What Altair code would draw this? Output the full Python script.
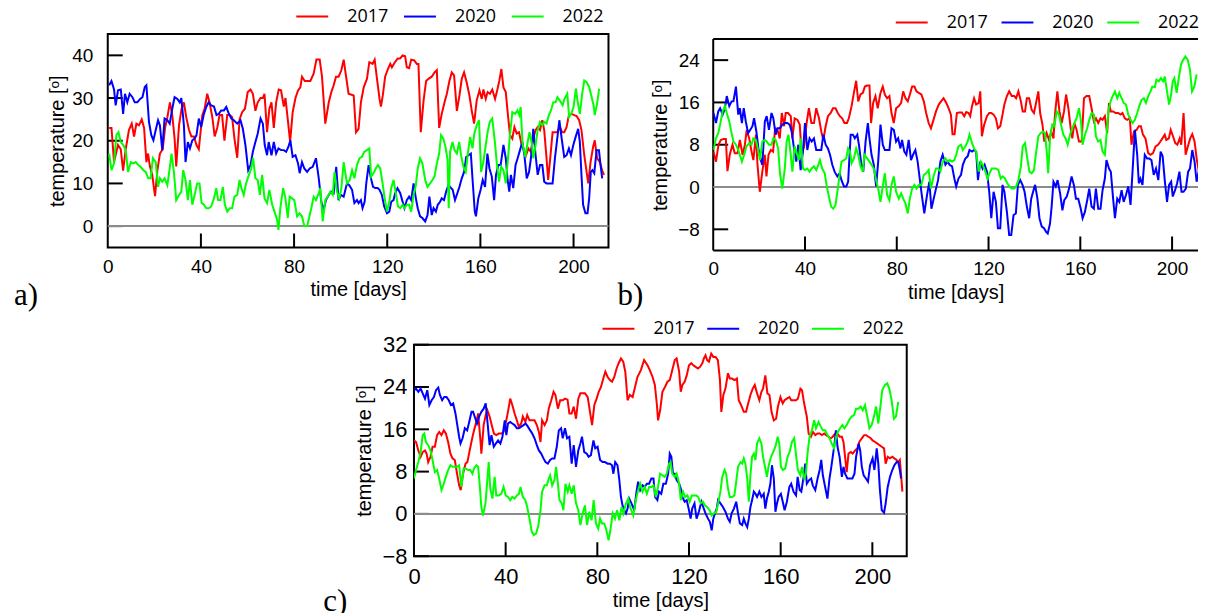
import altair as alt
import pandas as pd

YEARS = ["2017", "2020", "2022"]
COLORS = ["#ff0000", "#0000ff", "#00ff00"]
X_TICKS = [0, 40, 80, 120, 160, 200]

# ---------------- panel a) (day, temperature) ----------------
a17 = [(0.6,23),(1.6,23),(2.7,15),(4.4,19),(5.6,18),(6.6,13),(7.7,18),(9.1,22.5),(10.3,24),(11.3,21),(12.3,24),(13.4,23.6),(14.6,25),(15.6,23),(16.6,15),(17.3,17),(18.1,14),(19.1,12),(20.3,7),(21.3,13),(22.4,17),(23.6,18),(24.6,23),(25.6,25.5),(26.7,29),(27.7,26),(28.7,20.5),(29.4,14),(30.6,23.6),(31.7,27.5),(32.7,29),(33.7,25.5),(34.9,22.5),(35.9,21),(37,21),(38.1,19),(39.1,18),(40.6,26),(41.6,27.5),(42.7,31),(43.7,29),(44.9,25.5),(45.9,21),(47,23),(48,26),(49.1,26),(50.1,20),(51.3,26),(52.4,26),(53.4,25.5),(54.4,20.5),(55.6,16),(56.6,25),(57.7,26.7),(58.9,27.5),(60.1,31.4),(61.3,32),(62.3,31),(63.4,27),(64.4,29),(65.6,30),(66.6,30),(67.3,31),(68.4,22),(69.4,27.5),(70.3,29),(71.3,23),(72.3,29),(73.4,32),(74.4,31.8),(75.6,28),(76.3,30),(77.3,25),(78.3,19.7),(79.4,26.7),(80.6,30),(81.7,31.8),(82.7,32.5),(83.4,35),(84.6,34),(85.6,34),(87,34),(88.4,35.7),(89.6,39),(91,39),(92,35),(93.4,24),(94.9,29),(96,31.4),(97,33),(98,35),(99.1,35),(100.3,36.5),(101.3,39),(103.4,31),(105.6,30.6),(106.6,22),(107.7,22.8),(108.7,29),(109.9,32.5),(111.3,34.5),(112.3,38.4),(113.7,38),(114.6,39),(115.6,34.5),(116.7,29.8),(117.3,28),(118.1,30.6),(119.1,35),(120.3,36.8),(121.3,38),(122,37.2),(123.1,38.2),(124.4,39.2),(125.6,39.3),(126.6,40),(127.7,39.8),(128.4,37.2),(129.4,37),(130.3,39),(131.6,38.8),(132.7,38),(133.4,38),(134.4,22),(135.6,29.4),(136.7,34),(137.7,34.5),(139.1,35),(140.3,36),(141.3,36.5),(142.3,23),(143.4,26.3),(144.6,29),(145.6,31),(146.7,34),(147.7,36),(148.7,35.3),(149.9,27),(151,30.6),(152,34.5),(153,36),(154.1,33.7),(155.3,30.6),(156.3,27),(157.3,24),(158.4,29.4),(159.6,31.8),(160.6,29.8),(161.3,32),(162.3,29.8),(163.1,31.4),(164.1,31),(165.1,32),(166.3,29.8),(167.3,32),(168.1,34),(169,36.8),(169.9,32.5),(170.9,31.4),(171.7,26.7),(172.7,21.3),(173.7,20.5),(174.6,23.2),(175.6,21.7),(176.6,22),(177.7,19),(178.7,17.8),(179.6,16.6),(180.6,18.2),(181.6,17.4),(182.7,20.5),(183.7,22.5),(184.6,23.2),(185.6,22.5),(186.6,24.8),(187.4,22.5),(188.4,15.9),(189.1,10.8),(190.1,16.6),(191,22),(192,22),(193,22),(194.1,23.2),(195.1,22),(196,22),(197,23.2),(198,26),(199.1,26.3),(200.3,26),(201.3,25.8),(202.4,24.8),(203.4,22.5),(204.6,16.6),(205.6,12.7),(206.3,10),(207.3,15),(208.4,18.6),(209.1,20.1),(210.1,15.9),(211.3,15),(212.3,13),(213.1,12)]
a20 = [(0.6,33),(1.6,34),(2.7,32),(3.4,28.3),(4.4,31.8),(5.6,32),(6.6,26.3),(7.4,31),(8.4,29),(9.4,31),(10.6,30.2),(11.6,29),(12.7,29),(13.9,29.8),(14.9,30.2),(15.9,32.6),(16.6,33),(17.7,24.4),(18.7,21.3),(19.6,20.1),(20.6,22.5),(21.6,24.8),(22.4,23.6),(23.4,17.8),(24.4,25.2),(25.6,24.8),(26.6,24),(27.7,27.5),(28.7,30.2),(29.9,29.8),(30.9,29),(31.6,30),(32.7,23.6),(33.4,15),(34.4,19.7),(35.3,18.2),(36.3,20.1),(37.3,20.5),(38.1,21.3),(39.1,25.2),(40.1,23.2),(41.3,26.3),(42.3,27.9),(43.3,29),(44.4,28.3),(45.6,28),(46.7,26),(47.7,26.3),(48.7,27.1),(49.9,27.1),(50.9,27.9),(52,26.3),(53.1,25.2),(54.1,24.8),(55.6,24),(57,24.8),(58,22.8),(59.1,19),(60.3,13.1),(61.3,14.3),(62.3,17.4),(63.4,19.7),(64.4,21.7),(65.6,25.2),(66.6,24),(67.4,19),(68.4,16.6),(69.1,19.7),(70.3,16.6),(71.3,19.7),(72.3,17),(73.3,18.2),(74.4,17.8),(75.6,17.8),(76.6,17.4),(77.6,18.6),(78.4,20.1),(79.4,16.2),(80.6,16.6),(81.7,14.7),(82.4,12.4),(83.4,15),(84.4,13.5),(85.6,12.7),(86.7,13.5),(88,13.9),(89.4,15.9),(90.6,11.2),(91.7,5.7),(92.7,3.8),(93.7,6.1),(94.9,7.3),(95.9,8.1),(97,7.7),(98.1,13.9),(99.1,6.1),(100.1,7.3),(101.3,6.9),(102.7,10),(103.7,9.6),(104.9,8.5),(105.9,5.4),(107,6.1),(107.7,5.4),(108.7,6.1),(109.4,4.2),(110.3,5.7),(111,10),(112,14.3),(113,11.2),(113.9,9.2),(114.9,8.9),(115.9,8.9),(116.7,8.5),(117.7,7.3),(118.7,4.6),(119.9,3),(120.9,3.4),(121.7,5.7),(122.7,6.1),(123.4,7.7),(124.4,8.9),(125.6,7.7),(126.6,5.7),(127.4,4.2),(128.4,6.1),(129.4,6.9),(130.3,6.1),(131.3,10),(132.3,6.5),(133.1,4.2),(134.1,2.3),(135.1,1.9),(136.3,1.1),(137.3,2.6),(138.1,6.9),(139.1,2.6),(139.9,4.2),(140.9,3.4),(141.7,5),(142.7,5.7),(143.4,6.5),(144.4,6.1),(145.3,8.1),(146.3,9.6),(147,9.2),(148.1,8.5),(149.1,6.1),(150.1,7.7),(151,9.2),(152,11.2),(153,12.7),(153.9,16.2),(154.9,16.6),(155.9,17),(156.7,10.4),(157.6,3.4),(158.1,2.3),(159.1,6.5),(160.1,8.5),(161,10.8),(162,9.2),(163,17),(163.9,13.5),(164.9,11.6),(165.9,6.1),(166.7,12),(167.7,14.3),(168.7,14.3),(169.9,19),(170.9,15.9),(171.7,10.8),(172.4,8.1),(173.1,12),(174.1,8.9),(175.1,14.3),(176,15.9),(177,17.8),(178,19.7),(178.9,16.6),(179.9,11.2),(180.9,12.7),(181.7,15.9),(182.7,22.8),(183.7,16.6),(184.6,12),(185.6,14.3),(186.6,14.3),(187.4,10.4),(188.4,10),(189.9,10),(191,10),(192,15.9),(193,20.5),(193.9,24.8),(194.9,20.5),(196,16.2),(197,16.6),(198,18.2),(198.9,16.6),(199.9,19),(200.9,20.9),(202,22.8),(202.7,19.7),(203.4,12),(204.1,5),(205.1,3),(206,3),(206.7,6.5),(207.4,12.7),(208.1,13.1),(208.9,12.4),(209.9,17.8),(210.9,17.8),(211.6,14.3),(212.3,11.2)]
a22 = [(0.6,17),(1.6,13.1),(2.7,14.7),(3.7,21.3),(4.6,22),(5.6,19.7),(6.7,19),(7.7,17.8),(8.7,12.7),(9.9,15),(11,14.7),(12,15),(13.1,14.3),(14.1,13.9),(15.3,13.1),(16.3,12.7),(17.4,11.2),(18.4,11.2),(19.4,15.9),(20.6,15),(21.6,9.2),(22.4,11.2),(23.4,10.4),(24.4,11.2),(25.6,9.6),(26.6,13.5),(27.4,17),(28.4,12.7),(29.4,6.1),(30.6,7.3),(31.6,8.1),(32.4,13.1),(33.4,10.8),(34.4,6.1),(35.3,10.8),(36.3,5),(37.3,7.3),(38.4,10),(39.4,10),(40.3,5.4),(41.3,5),(42.3,4.2),(43.4,4.2),(44.4,4.6),(45.6,6.5),(46.6,8.9),(47.4,6.1),(48.4,6.1),(49.4,9.2),(50.3,5),(51.3,3.4),(52.4,4.2),(53.4,4.2),(54.4,6.9),(55.6,7.3),(56.6,10.8),(57.4,8.9),(58.4,7.3),(59.4,10),(60.6,12),(61.6,13.5),(62.4,16),(63.4,11.2),(64.4,10.8),(65.3,7.3),(66.3,12),(67.3,6.5),(68.4,5.4),(69.4,8.5),(70.6,5),(71.6,3.4),(72.7,1.5),(73.3,-0.9),(74.1,4.2),(75.3,8.9),(76.3,6.5),(77.3,1.9),(78.1,6.9),(79.1,6.5),(80.1,6.1),(81.3,2.3),(82.3,3),(83.4,2.3),(84.4,0),(85.6,0),(86.6,2.3),(87.4,4.2),(88.4,6.9),(89.4,6.1),(90.3,7.3),(91.3,8.9),(92.3,1.1),(93.4,6.1),(94.4,6.9),(95.6,8.1),(96.6,7.3),(97.4,12.7),(98.4,8.1),(99.4,6.5),(100.3,8.9),(101.3,15),(102.7,10),(103.9,10.8),(104.9,13.1),(105.9,11.2),(107,14.3),(108.1,15.9),(109.1,16.2),(110.1,17.4),(111.3,17.8),(112.3,18.2),(113.1,11.6),(114.1,12.4),(115.1,13.5),(116,14.3),(117,13.5),(118,10),(118.9,6.5),(119.9,3.4),(120.9,5.7),(121.7,8.9),(122.7,10.8),(123.7,7.7),(124.6,4.6),(125.6,4.2),(126.6,5),(127.4,4.2),(128.4,5),(129.4,5),(130.3,3.4),(131.3,7.3),(132.3,9.6),(133.1,13.5),(134.1,15.9),(135.1,14.7),(136.3,10.8),(137.3,9.2),(138.4,10),(139.4,10.8),(140.3,11.6),(141.3,14.7),(142.3,17),(143.1,21.3),(144.1,20.5),(145,18.6),(145.9,15.5),(146.4,4.2),(147,17.4),(148,19.7),(148.9,17.8),(149.9,17),(150.9,19.7),(151.7,16.6),(152.7,13.9),(153.7,12.7),(154.6,17),(155.6,20.9),(156.6,18.2),(157.4,21.7),(158.4,23.6),(159.4,24.8),(160.3,12.7),(161.3,15),(162.3,19),(163.1,22),(164,24.4),(165.1,25.2),(166.3,19.3),(167,15),(168,10.4),(168.9,13.9),(169.9,13.1),(170.9,10),(171.7,15),(172.7,21.3),(173.7,26.7),(174.9,26.3),(175.9,27.1),(176.7,26),(177.3,27.9),(178.1,19.3),(179.3,16.2),(180.3,19.7),(181.1,22),(182.1,19.3),(182.7,15.9),(183.7,19),(184.6,22.5),(185.6,24.4),(186.6,23.6),(187.4,24.4),(188.4,24),(189.4,26),(190.3,27.1),(191.3,29),(192.3,29),(193.1,30.2),(194.1,29.4),(195.3,28.3),(196.1,29.8),(197.3,31),(198.1,25.6),(199,26.3),(200,27.9),(201,32.2),(201.7,29.4),(202.7,26.3),(203.7,31),(204.6,34.1),(205.6,33.7),(206.7,32.6),(207.6,30.6),(208.6,28.3),(209.1,26),(210.1,28.7),(211,32.2)]

# ---------------- panel b) ----------------
b17 = [(0.1,6.7),(1.2,4.8),(2.3,8),(3.3,8.9),(4.5,9.1),(5.5,9.1),(6.2,3),(7.2,6.1),(8.4,8),(9.4,6.4),(10.6,6.4),(11.6,8.9),(12.8,6.1),(13.8,8),(14.6,10.8),(15.7,9.2),(16.7,6.7),(17.5,5.1),(18.6,9.9),(19.3,4.2),(20.3,-0.9),(21.4,2.9),(22.5,6.1),(23.2,2),(24.1,6.1),(25.1,7),(26.1,6.7),(27,11.1),(28,10.8),(29,9.2),(29.9,14),(30.9,11.5),(31.6,14),(32.6,14),(33.8,13.4),(34.5,9.2),(35.5,13),(36.7,12.7),(37.7,11.8),(38.6,6.1),(39.6,7.7),(40.7,12.1),(41.7,14.9),(42.8,12.1),(43.9,12.1),(44.9,14.9),(46.1,13),(47.1,10.5),(48,8.9),(49,11.5),(50,13.4),(51.2,14),(52.2,14.9),(53.3,14.9),(54.3,14),(55.2,13.4),(56.2,13),(57.2,12.1),(58.3,12.1),(59.1,13),(60.3,15.3),(61.3,17.8),(62.3,20.1),(63.2,16.2),(64.2,17.5),(65.2,17.8),(66.1,19),(67.1,19.2),(68.1,19.2),(68.8,12.1),(69.7,15.9),(70.7,17.2),(71.7,14.9),(72.9,17.8),(73.9,19),(74.8,17.5),(75.8,16.8),(76.8,17.2),(77.7,14),(78.7,12.1),(79.7,14.9),(80.9,15.3),(81.9,15.9),(82.8,18.1),(83.8,16.8),(84.8,16.2),(85.7,17.5),(86.7,19),(87.7,19),(88.6,18.1),(89.6,17.8),(90.7,17.5),(91.8,16.2),(92.8,14),(93.9,12.1),(94.9,11.1),(96,12.7),(97.1,14.3),(98.3,15.6),(99.3,16.2),(100.4,16.8),(101.6,15.9),(102.6,14.9),(103.6,13.7),(104.3,10),(105.2,10),(106.2,14),(107.2,14.1),(108.4,14.1),(109.4,13.4),(110.3,14.2),(111.3,14),(112,13.4),(112.8,15.3),(113.7,16.8),(114.6,15.6),(115.7,15.9),(116.4,18.1),(117.1,9.6),(118.1,11.8),(119.3,13.4),(120.3,14),(121.2,14),(122.2,13.7),(123.2,13),(124.1,11.1),(125.1,11.5),(126.1,13.7),(126.9,15.6),(128,17.2),(129,18.1),(130.1,17.2),(131.2,17.2),(132,16.8),(133,18.1),(134.1,16.2),(134.9,14.3),(135.9,14.3),(136.7,16.8),(137.7,16.8),(138.8,14.6),(139.8,14),(140.7,15.9),(141.7,18.1),(142.5,14),(143.5,11.8),(144.3,8.6),(145.3,10.2),(146.4,8.9),(147.3,10.5),(148.3,9.2),(149,14),(150,18.1),(150.9,14.3),(151.9,12.1),(152.9,14.3),(153.8,17.5),(154.8,14.9),(155.8,11.1),(156.5,9.2),(157.4,12.1),(158.4,10.8),(159.4,8.6),(160.6,8.6),(161.6,16.8),(162.7,17.2),(163.9,17.2),(164.9,14.9),(165.9,12.4),(166.8,13),(167.8,12.1),(168.8,13),(169.7,12.7),(170.7,13.4),(171.7,10.2),(172.5,15.9),(173.3,14.3),(174.3,14.3),(175.4,14),(176.5,14),(177.5,13.7),(178.4,14),(179.4,13),(180.4,12.7),(181.6,13),(182.3,8),(183.4,10.5),(184.5,10.8),(185.5,11.5),(186.4,11.5),(187.3,9.9),(188.4,9.2),(189.6,6.4),(190.6,6.1),(191.7,6.4),(192.8,7.7),(193.9,8),(194.9,8.6),(195.8,9.2),(196.8,9.9),(197.5,8.9),(198.6,9.2),(199.4,10.8),(200.4,9.6),(201.4,8.3),(202.3,8),(203.3,9.2),(204,8),(205,14),(205.9,6.1),(206.9,7.7),(207.9,9.2),(208.8,10),(209.8,8.6),(210.8,5.1),(211.7,2.9),(213,-2.2)]
b20 = [(0.1,14),(1.2,12.1),(2.2,14.3),(3,14.9),(4.1,13.7),(5.1,14.9),(5.9,17.2),(7,15.3),(8,16.2),(8.8,16.2),(9.9,19),(10.9,13.7),(11.6,14.9),(12.5,12.1),(13.3,14.9),(14.2,12.4),(15.2,10.2),(16.1,10.8),(17.1,11.5),(17.8,13),(18.8,10.5),(19.7,7.3),(20.7,5.1),(21.4,4.2),(22.5,12.4),(23.3,13.4),(24.3,10.8),(25.4,14),(26.2,13),(27.2,9.9),(28,11.1),(29,11.1),(30.1,11.8),(31.2,12.1),(32.3,12.1),(33.3,11.8),(34.2,10.5),(35.2,7.3),(36.2,4.8),(37.1,8),(38.1,3.2),(39.1,6.7),(40,12.1),(41,7),(42,9.2),(42.9,8.6),(43.9,9.2),(44.9,7),(46.1,7),(47.1,7),(48,9.9),(49,8),(50,7.3),(50.9,6.1),(51.9,4.2),(52.9,2.9),(54.1,2),(55.1,2.6),(55.9,1.3),(57,0.1),(58,0.1),(58.8,1),(59.9,9.9),(60.9,9.9),(61.7,9.2),(62.8,9.9),(63.5,8),(64.5,4.5),(65.4,2.9),(66.4,8.6),(67.4,12.1),(68.1,9.2),(69,6.1),(70,4.2),(71,0.1),(71.9,4.8),(72.9,11.8),(73.9,8),(74.8,7),(75.8,7),(76.8,7),(77.7,11.1),(78.7,10.8),(79.7,8.6),(80.6,9.2),(81.6,7.3),(82.3,8.9),(83.3,6.7),(84.2,6.1),(85.2,8.9),(86.2,5.1),(87.1,6.1),(88.1,7),(89.1,4.8),(90,1.6),(91,-1.8),(92,-5),(93.2,-1.5),(94.2,1),(95.1,-4.1),(96.1,-2.2),(97.1,-0.3),(98,1.3),(99,4.8),(100,6.1),(101.2,4.2),(102.2,4.8),(103,4.2),(104.1,3.9),(105.1,1.6),(105.9,0.1),(106.9,1.6),(108,2.3),(108.8,4.2),(109.9,5.4),(110.9,5.8),(111.7,7),(112.8,6.7),(113.7,7),(114.6,6.7),(115.4,1.3),(116.4,4.8),(117.4,3.5),(118.3,4.2),(119.3,2.9),(120.3,-0.9),(121.2,-5.9),(122.2,-0.9),(123.2,-2.8),(124.1,-7.8),(125.1,-7.8),(126.1,0.4),(126.9,-0.9),(128,-4.7),(129,-9.1),(129.9,-9.1),(130.9,-5.3),(131.9,-5),(132.8,0.4),(133.8,1.3),(134.8,0.4),(135.7,-0.9),(136.7,-3.7),(137.7,-5.9),(138.6,-2.2),(139.6,-0.6),(140.3,0.4),(141.3,-2.2),(142.2,-5.9),(143.2,-7.5),(144.2,-7.8),(145.1,-8.5),(145.8,-8.8),(146.8,-6.9),(147.5,-3.7),(148.3,1),(149.3,0.1),(150.1,1.3),(151.2,-1.2),(152.2,-4.4),(153,-2.5),(154.1,-1.8),(155.1,-0.3),(156.2,2),(157.2,0.4),(158.1,-2.2),(159.1,-2.2),(160.2,-4.1),(161,-5.9),(162,-4.7),(163,-2.5),(163.9,-0.3),(164.9,-3.7),(165.9,-4.1),(166.8,-0.3),(167.8,-4.1),(168.8,-4.1),(169.7,-0.6),(170.7,1.6),(171.4,5.1),(172.5,3.5),(173.3,2.9),(174.3,-2.2),(175.1,-5.9),(176.1,-2.2),(177,-2.8),(178,-0.6),(178.9,-2.8),(179.9,-1.5),(180.9,0.1),(181.9,-3.4),(182.8,3.2),(183.8,10.8),(184.8,6.1),(185.5,0.7),(186.2,1.6),(187.1,0.4),(188.1,6.1),(189.1,5.4),(190,5.4),(191,5.1),(192,2.3),(193,3.5),(194,1.3),(195,6.7),(195.9,5.8),(196.8,1.3),(197.8,-2.8),(198.7,0.4),(199.6,1),(200.3,-1.8),(201.3,-0.6),(202.2,0.7),(203.2,2.9),(204.1,-0.9),(205,-0.9),(206,-0.3),(207,2.9),(207.8,3.5),(208.8,7),(209.8,4.8),(210.7,1),(211.7,3.2)]
b22 = [(0.1,7),(1.2,9.2),(2.2,10.2),(3,11.8),(4.1,14.3),(5.1,15.3),(5.9,14),(7,12.4),(8,10.2),(8.8,8.6),(9.9,8),(10.9,7),(11.6,6.1),(12.5,4.8),(13.5,6.1),(14.5,7.7),(15.7,8.3),(16.7,8),(17.5,9.2),(18.6,8.9),(19.6,7),(20.4,5.1),(21.4,8.6),(22.5,8.9),(23.3,8.6),(24.3,8),(25.4,8),(26.2,9.2),(27.2,8.9),(28.3,7.3),(29.1,2.6),(30.1,-0.3),(31.2,3.5),(32,8.6),(32.8,9.9),(33.8,6.1),(34.5,2.9),(35.5,7.7),(36.4,6.4),(37.4,5.1),(38.1,9.2),(39.1,3.5),(40,3.2),(41,3.5),(42,2.9),(42.9,3.5),(43.9,3.9),(44.9,3.2),(45.8,4.2),(46.5,5.1),(47.5,3.5),(48.6,2.6),(49.4,0.4),(50.4,-1.8),(51.4,-3.7),(52.3,-4.1),(53.3,-3.4),(54.1,-0.9),(55.1,2.3),(55.9,4.8),(57,5.1),(58,5.4),(58.8,7.3),(59.6,6.7),(60.3,4.5),(61.3,5.4),(62.3,7.3),(63.2,6.1),(64.2,3.9),(65.2,2.9),(65.9,6.1),(67.1,5.4),(68.1,4.8),(69,4.2),(70,3.5),(71,1.3),(71.9,-0.3),(72.9,-2.8),(73.9,0.1),(74.8,2.6),(75.8,-1.5),(76.8,-2.5),(77.7,0.4),(78.7,2),(79.7,-0.9),(80.9,-2.2),(81.9,-1.2),(82.8,-2.2),(83.8,-3.1),(84.8,-5),(85.7,-2.2),(86.7,-0.3),(87.7,0.4),(88.6,-0.3),(89.6,0.4),(90.7,0.4),(91.8,2.3),(92.8,2.6),(93.9,3.2),(94.9,-0.3),(96,2),(97.1,3.5),(98,3.5),(99,2.9),(100,4.8),(101.2,5.4),(102.2,4.8),(103,5.1),(104.1,4.8),(105.1,5.1),(105.9,6.1),(106.9,7.7),(108,8),(108.8,7),(109.9,7.7),(110.9,8.6),(111.7,9.9),(112.8,8.3),(113.7,7.3),(114.6,6.7),(115.7,2.9),(116.7,4.8),(117.5,4.2),(118.6,2.9),(119.6,1.6),(120.4,2.6),(121.4,3.5),(122.4,3.5),(123.3,3.5),(124.3,3.2),(125.3,1.6),(126.2,2),(127.2,1.6),(128.2,0.7),(129.1,0.1),(130.1,-0.3),(131.2,-0.3),(132,0.1),(133,1.3),(134.1,3.9),(134.9,7.7),(135.9,8.3),(136.9,5.4),(137.8,2.9),(138.8,2.6),(139.8,3.2),(140.7,6.4),(141.7,9.6),(142.7,10.2),(143.6,10.5),(144.6,10.2),(145.5,6.1),(146,2.6),(146.8,9.2),(147.8,11.8),(148.7,11.5),(149.7,14.3),(150.7,13.7),(151.6,11.8),(152.6,9.9),(153.6,9.2),(154.5,8),(155.5,9.9),(156.5,11.1),(157.4,12.1),(158.4,13),(159.4,14.9),(160.3,12.4),(161,8),(162,9.9),(163,11.1),(163.9,12.7),(164.9,14),(165.9,13.7),(166.8,9.6),(167.8,8.6),(168.8,8.9),(169.7,6.7),(170.7,6.1),(171.2,8.6),(172.2,14.3),(173.2,16.2),(174.1,17.2),(175.1,18.1),(176.1,16.8),(177,17.8),(178,16.8),(178.9,15.9),(179.9,15.6),(180.9,13.7),(181.9,12.7),(182.8,12.1),(183.8,12.7),(184.8,14),(185.7,15.3),(186.7,16.5),(187.7,16.8),(188.6,15.9),(189.6,17.2),(190.6,18.1),(191.4,19),(192.5,18.9),(193.2,20.3),(194.2,20),(195.1,20.6),(196.1,20),(196.8,20.9),(197.8,18.1),(198.7,15.6),(199.6,17.5),(200.3,20),(201,20.6),(202,17.8),(202.9,20.6),(203.9,23.2),(204.9,24.1),(205.8,24.7),(206.8,24.1),(207.8,22.2),(208.7,18.1),(209.7,19),(210.7,21.3)]

# ---------------- panel c) ----------------
c17 = [(0,13.9),(0.9,13.6),(1.9,12),(2.9,10.8),(3.8,11.7),(4.8,12),(5.5,11.4),(6.2,9.8),(7.2,10.8),(8.1,12.7),(9.1,12.7),(10.1,14.9),(11,15.5),(12,14.9),(13,15.8),(13.9,15.2),(14.9,13.6),(15.9,11.4),(16.8,10.5),(17.8,10.2),(18.8,7.6),(19.7,5.4),(20.4,4.5),(21.4,7.6),(22.5,9.5),(23.3,9.8),(24.3,12),(25.4,14.3),(26.2,15.8),(27.2,17.4),(28,19),(29,13.9),(29.4,11.4),(30.4,16.8),(31.3,18.7),(32,19.6),(33,18.4),(34.1,16.5),(34.9,15.2),(35.9,14.9),(37,15.2),(38.1,15.2),(39.1,15.5),(40,17.1),(41,19.3),(42,21.8),(42.9,20.6),(43.9,19),(44.9,17.7),(45.7,16.5),(46.8,17.1),(47.5,18.4),(48.6,17.4),(49.4,18.7),(50.4,17.7),(51.4,17.7),(52.6,17.7),(53.6,16.8),(54.5,15.5),(55.2,13.6),(55.9,17.7),(57,16.8),(58,17.7),(58.8,19.9),(59.9,21.5),(60.9,23.1),(61.7,22.5),(62.8,19.9),(63.8,21.5),(64.9,21.5),(65.9,21.8),(67,21.6),(67.8,19),(68.8,19),(69.7,20.3),(70.7,18),(71.7,21.8),(72.6,22.8),(73.6,22.8),(74.6,22.8),(75.8,22.1),(76.8,19.3),(77.7,16.8),(78.7,20.6),(79.7,21.8),(80.6,23.1),(81.6,24),(82.6,25.6),(83.5,26.9),(84.5,25.9),(85.5,25.3),(86.4,25),(87.4,25.9),(88.4,27.5),(89.3,28.5),(90.3,29.4),(91.3,28.8),(92.2,26.9),(93.2,21.5),(94.2,22.5),(95.4,22.1),(97.5,25.9),(99,27.2),(100.4,29.1),(101.9,28.1),(102.9,27.2),(104.1,25.9),(105.1,24.4),(106,20.6),(106.5,17.7),(107.4,19.6),(108.4,23.1),(109.5,24),(110.6,25),(111.6,25.3),(112.7,27.2),(113.8,29.1),(114.6,29.4),(115.7,26.9),(116.4,23.1),(117.1,24.4),(118.1,25),(119,26.2),(120,28.1),(121,28.5),(121.9,28.1),(122.9,27.8),(123.9,27.5),(124.8,27.8),(125.8,28.5),(126.5,29.4),(127.2,30),(127.9,29.1),(128.7,28.8),(129.7,30.3),(130.6,29.7),(131.6,29.7),(132.6,29.1),(133.5,25.3),(134.1,19.3),(135,22.5),(135.9,23.7),(137,26.6),(137.8,25.6),(138.8,25.6),(139.8,25.3),(140.9,25.6),(141.7,21.5),(142.7,20.6),(143.9,19.3),(144.9,19.3),(145.8,20.9),(146.8,22.5),(147.8,23.7),(148.7,24.4),(149.7,22.8),(150.7,21.5),(151.6,23.1),(152.3,23.7),(153.3,26.2),(154.2,22.8),(155.1,22.5),(156,19.3),(157,17.7),(158,18),(158.8,20.3),(159.9,22.1),(160.9,20.9),(161.7,21.5),(162.7,21.8),(163.8,22.1),(164.6,21.5),(165.6,21.5),(166.7,21.5),(167.5,21.8),(168.6,23.7),(169.3,23.4),(170,21.5),(170.7,19.9),(171.4,18.4),(172.2,15.2),(173.2,14.6),(174.1,15.5),(175.1,14.9),(176.1,15.2),(177,15.2),(178,14.9),(179,15.2),(179.8,14.9),(180.9,14.6),(181.9,14.3),(182.7,14.6),(183.8,15.2),(184.7,15.2),(185.7,14.6),(186.7,14.6),(187.4,13.6),(188.1,10.8),(188.8,7.9),(189.6,11.4),(190.6,11.7),(191.4,11.4),(192.5,12),(193.5,12.4),(194.3,13.6),(195.4,14.3),(196.4,14.9),(197.3,14.9),(198.3,14.6),(199.3,14.3),(200.1,13.9),(201.2,13.6),(202.2,13.3),(203.1,13),(204.1,12.7),(205.1,12.4),(205.8,9.5),(206.7,10.8),(207.7,10.5),(208.7,10.8),(209.6,10.5),(210.6,10.2),(211.3,9.8),(212,10.2),(212.5,7.6),(213.1,4.2)]
c20 = [(0,23.4),(0.9,23.7),(1.9,23.1),(2.9,23.7),(3.8,22.8),(4.8,21.8),(5.8,23.4),(6.7,20.6),(7.7,21.5),(8.7,22.1),(9.6,23.4),(10.6,23.9),(11.3,22.5),(12.3,21.5),(13.2,22.1),(14.2,22.1),(15.2,21.5),(16.1,20.6),(17.1,20.9),(18.1,19),(19,16.5),(19.7,14.6),(20.3,13.3),(21.2,14.3),(22.2,16.2),(23.2,15.8),(24.1,17.4),(25.1,19.3),(25.8,19.3),(26.8,18),(27.5,17.1),(28.4,18.4),(29.4,19.3),(30.4,19.9),(31.3,20.9),(32,17.7),(33,13),(33.8,14.9),(34.8,12.7),(35.7,13.3),(36.7,13.9),(37.7,13.3),(38.6,14.6),(39.6,17.7),(40.3,14.9),(41,17.1),(42,17.4),(42.9,17.1),(43.9,16.8),(44.9,16.2),(45.8,16.2),(46.8,16.5),(47.8,16.8),(48.7,17.1),(49.7,16.5),(50.7,15.8),(51.6,15.2),(52.6,14.3),(53.6,13),(54.5,12),(55.5,11.4),(56.5,10.5),(57.4,9.8),(58.4,9.5),(59.4,10.2),(60.3,10.5),(61.3,10.5),(62.3,12.7),(63.2,15.8),(64.2,16.2),(64.9,14.3),(65.9,16.2),(66.8,14.3),(67.8,14.6),(68.8,9.5),(69.7,13),(70.7,8.9),(71.7,12),(72.6,13.3),(73.3,14.6),(74.3,11.7),(75.4,11.4),(76.2,10.8),(77.2,11.1),(78.3,13.9),(79.1,12.4),(80.1,12.7),(81.2,10.2),(82.3,9.8),(83.3,9.8),(84.5,9.5),(85.5,9.5),(86.4,9.2),(87,7.6),(87.8,9.8),(88.8,9.2),(89.6,6.4),(90.3,3.2),(91,1.6),(91.7,0.7),(92.5,0.1),(93.2,1),(93.9,2.9),(94.9,2),(96.1,0.7),(97.1,4.2),(97.8,6.1),(98.7,4.5),(99.7,5.4),(100.7,5.1),(101.6,5.7),(102.6,5.7),(103.6,6.7),(104.5,6.7),(105.2,3.2),(106.2,2.6),(106.9,4.2),(107.9,3.8),(108.8,5.7),(109.9,5.7),(110.9,7.6),(111.6,11.4),(112.3,10.8),(113,7.6),(113.8,7.6),(114.6,6.4),(115.7,5.7),(116.4,4.8),(117.1,3.2),(118.1,2.3),(119,2.6),(120,0.7),(120.7,-0.9),(121.4,1),(122.4,2),(123.3,-0.9),(124.3,0.4),(125.4,2.3),(126.2,1.3),(127.2,0.1),(128.3,-0.9),(129.1,-1.5),(129.9,-3.1),(130.6,-0.9),(131.3,0.1),(132.1,1),(132.7,2.6),(133.7,2),(134.8,1.3),(135.9,0.4),(137,-0.9),(137.8,-1.5),(138.6,0.1),(139.6,1),(140.6,2.3),(141.4,0.1),(142.2,-1.8),(143.2,-2.1),(143.9,-0.9),(144.6,-1.8),(145.4,-2.5),(146.1,-0.9),(146.8,1.3),(147.5,2.6),(148.3,4.2),(149,3.8),(149.7,3.2),(150.7,4.2),(151.6,3.2),(152.6,3.8),(153.3,1),(154,2.9),(154.8,4.2),(155.5,5.7),(156.2,9.2),(157,6.7),(157.7,0.4),(158.4,2),(159.1,3.2),(160.1,3.8),(160.9,2.3),(161.7,0.7),(162.7,2.3),(163.8,5.1),(164.6,5.7),(165.6,4.2),(166.7,3.5),(167.4,7),(168.3,4.5),(169,4.2),(170,7),(170.7,9.5),(171.4,5.7),(172.4,6.4),(173.3,6.7),(174,5.4),(175.1,4.5),(176.1,6.7),(177,8.3),(177.7,10.2),(178.4,7.3),(179.4,5.1),(180.4,2.9),(181.3,6.7),(182,8.6),(182.7,10.8),(183.5,13.3),(184.1,15.8),(184.8,12.7),(185.7,10.8),(186.7,7),(187.4,8.9),(188.1,7.6),(189.1,6.7),(190.3,6.7),(191.3,6.7),(192.2,7.6),(192.9,10.8),(194,13.3),(194.7,12),(195.4,8.9),(196.2,7.3),(197.2,6.7),(198.1,6.1),(199,9.2),(200.1,10.5),(200.9,8.3),(201.9,12.4),(202.6,9.5),(203.3,4.5),(204.1,0.7),(205.1,0.2),(205.8,2),(206.7,5.1),(207.7,7),(208.7,8.3),(209.6,9.2),(210.6,9.8),(211.3,9.8),(212,8.3),(212.5,6.7)]
c22 = [(0,6.7),(0.9,8.3),(1.9,9.8),(2.9,11.7),(3.8,14.9),(4.5,15.2),(5.2,13.6),(6.2,13),(7.2,12),(8.1,10.2),(9.1,7.9),(10.1,8.3),(11,6.7),(12,4.5),(13,5.7),(13.9,7),(14.9,8.3),(15.9,9.2),(16.8,8.9),(17.8,8.9),(18.8,8.9),(19.7,9.2),(20.7,5.1),(21.7,8.6),(22.6,8.6),(23.6,8.3),(24.6,8.3),(25.5,7.6),(26.2,8.6),(27.2,9.2),(28,8.9),(28.7,5.4),(29.4,1.3),(30.1,-0.3),(31.2,2),(32,6.4),(32.6,9.8),(33.3,4.8),(34.2,2.9),(35.2,7),(35.9,3.5),(37,3.5),(38.1,3.8),(39.1,5.1),(40,3.5),(41,3.2),(42,2.6),(42.9,3.2),(43.9,2.9),(44.9,3.5),(45.8,3.8),(46.5,5.1),(47.5,3.2),(48.6,2.6),(49.4,1.3),(50.4,-0.9),(51.4,-3.4),(52.3,-4),(53.3,-3.7),(54.3,-2.1),(55.2,0.7),(55.9,4.2),(57,5.4),(58,5.4),(58.8,6.7),(59.4,7.3),(60.3,5.4),(61.3,6.4),(62,8.9),(62.8,5.7),(63.5,2.6),(64.5,2),(65.2,0.7),(66.1,5.7),(67.1,4.2),(67.8,5.4),(68.8,3.8),(69.7,5.4),(70.7,2),(71.7,0.7),(72.6,-2.1),(73.6,0.1),(74.6,1.6),(75.5,-2.1),(76.5,0.4),(77.5,-1.2),(78.4,2.6),(79.4,-1.8),(80.4,-2.8),(81.2,-0.9),(82,-1.8),(83,-1.8),(83.8,-2.8),(84.9,-5),(85.7,-3.1),(86.7,0.1),(87.7,-0.9),(88.6,0.7),(89.6,-1.2),(90.6,1.3),(91.4,0.1),(92.5,2),(93.5,2.9),(94.3,1.3),(95.7,-0.3),(96.8,2.6),(97.8,4.5),(98.7,5.7),(99.7,4.2),(100.7,5.1),(101.6,3.8),(102.6,5.1),(103.6,5.1),(104.5,5.4),(105.5,3.2),(106.5,5.1),(107.4,7.6),(108.4,7.3),(109.4,7),(110.3,7.6),(111.3,9.5),(112,9.8),(112.7,7.6),(113.8,7),(114.6,7.6),(115.7,5.7),(116.4,2.6),(117.4,4.2),(118.3,3.2),(119.3,3.5),(120.3,2.3),(121.2,3.5),(122.2,3.5),(123.2,3.5),(124,3.2),(125.1,2),(126.1,2.3),(126.9,1.6),(127.9,1.3),(129,0.7),(129.9,-0.3),(130.9,0.1),(131.9,0.4),(132.7,2),(133.7,4.2),(134.5,7),(135.5,8.3),(136.2,7.6),(137,4.8),(137.8,3.2),(138.8,3.2),(139.8,3.5),(140.6,6.1),(141.4,8.9),(142.5,9.8),(143.2,9.5),(143.9,10.5),(144.6,9.5),(145.4,6.7),(146.1,2.3),(146.8,7.3),(147.5,10.8),(148.3,11.4),(149,10.2),(149.7,13.3),(150.7,14.3),(151.6,13.3),(152.3,10.8),(153.3,8.6),(154,7),(154.8,9.2),(155.8,10.8),(156.7,11.7),(157.7,12.7),(158.7,14.6),(159.4,13.3),(160.1,8.9),(161,8.3),(162,8.6),(163,10.8),(163.9,11.7),(164.9,13.6),(165.9,14.3),(166.8,10.8),(167.5,8.3),(168.6,7.3),(169.3,8.9),(170.3,6.7),(171,7.6),(171.7,11.4),(172.6,14.6),(173.6,15.8),(174.6,17.7),(175.4,16.2),(176.5,17.4),(177.5,16.5),(178.4,15.8),(179.4,15.8),(180.4,14.9),(181.3,14.3),(182.3,13.3),(183.3,12.4),(184.2,14.6),(184.9,15.5),(185.9,16.2),(186.9,16.8),(187.8,16.2),(188.8,16.8),(189.8,17.7),(190.9,18.4),(192,18.7),(192.9,19.9),(193.9,19.9),(194.9,20.3),(195.8,19.6),(196.8,20.6),(197.8,18.4),(198.7,16.2),(199.7,16.8),(200.7,18.4),(201.6,20.3),(202.6,17.1),(203.6,20.6),(204.3,23.4),(205.5,24.4),(206.5,24.7),(207.4,23.7),(208.4,21.5),(209.4,18),(210.3,18.4),(211.3,21.2)]

SANS = "Liberation Sans"


def frame(series):
    rows = []
    for year, pts in zip(YEARS, series):
        for d, t in pts:
            rows.append({"day": d, "temp": t, "year": year})
    return pd.DataFrame(rows)


def panel(series, xdom, ydom, yticks, W, H, ylab_pad, ytitle_pad, xlab_pad,
          xtitle_pad, leg_x, leg_y, letter, letter_dx, letter_off, top_gap=0, tick_fs=19,
          leg_gap=11):
    Hv = H + top_gap
    ytop = ydom[1] + top_gap * (ydom[1] - ydom[0]) / H
    xscale = alt.Scale(domain=xdom, nice=False, zero=False)
    yscale = alt.Scale(domain=[ydom[0], ytop], nice=False, zero=False)
    xaxis = alt.Axis(values=X_TICKS, title="time [days]", grid=False, domain=False,
                     ticks=False, tickSize=0, labelPadding=xlab_pad, titlePadding=xtitle_pad,
                     labelFlush=False, labelFont=SANS, labelFontSize=tick_fs, labelColor="black",
                     titleFont=SANS, titleFontSize=20, titleFontWeight="normal",
                     titleColor="black")
    yaxis = alt.Axis(values=yticks, title="temperature [\u1d52]", grid=False, domain=False,
                     ticks=False, tickSize=0, labelPadding=ylab_pad, titlePadding=ytitle_pad,
                     labelFont=SANS, labelFontSize=tick_fs, labelColor="black",
                     titleFont=SANS, titleFontSize=20, titleFontWeight="normal",
                     titleColor="black",
                     titleY=(Hv + top_gap) / 2)
    X = alt.X("day:Q", scale=xscale, axis=xaxis)
    Y = alt.Y("temp:Q", scale=yscale, axis=yaxis)
    xt = alt.Chart(pd.DataFrame({"day": X_TICKS[1:]})).mark_rule(
        color="black", strokeWidth=2).encode(x=X, y=alt.value(Hv), y2=alt.value(Hv - 14))
    yt = alt.Chart(pd.DataFrame({"temp": yticks})).mark_rule(
        color="black", strokeWidth=2).encode(y=Y, x=alt.value(0), x2=alt.value(15))
    zero = alt.Chart(pd.DataFrame({"temp": [0]})).mark_rule(
        color="#8c8c8c", strokeWidth=2).encode(y=Y)
    lines = alt.Chart(frame(series)).mark_line(strokeWidth=2, clip=True).encode(
        x=X, y=Y,
        color=alt.Color("year:N", scale=alt.Scale(domain=YEARS, range=COLORS),
                        legend=alt.Legend(title=None, orient="none", legendX=leg_x,
                                          legendY=leg_y, direction="horizontal",
                                          symbolType="M-2,0H2", symbolSize=256,
                                          symbolStrokeWidth=2, labelFont="Open Sans",
                                          labelFontSize=18, labelColor="black",
                                          labelOffset=26, columnPadding=leg_gap, padding=0)),
    )
    layers = [yt, xt, zero, lines]
    props = dict(width=W, height=Hv,
                 title=alt.TitleParams(text=letter, orient="bottom", anchor="start",
                                       frame="group", dx=letter_dx, offset=letter_off,
                                       baseline="alphabetic", font="Liberation Serif",
                                       fontSize=31, fontWeight="normal", color="black"))
    if top_gap:
        # this panel is cut at the right page edge and starts lower than the row top:
        # its frame (top, bottom, left) is drawn from the data range
        fh = alt.Chart(pd.DataFrame({"temp": [ydom[0], ydom[1]]})).mark_rule(
            color="black", strokeWidth=2).encode(y=Y)
        fv = alt.Chart(pd.DataFrame({"day": [xdom[0]], "temp": [ydom[0]],
                                     "top": [ydom[1]]})).mark_rule(
            color="black", strokeWidth=2).encode(x=X, y=Y, y2=alt.Y2("top:Q"))
        layers = [fh, fv] + layers
        props["view"] = alt.ViewBackground(stroke="transparent")
    return alt.layer(*layers).properties(**props)


pa = panel([a17, a20, a22], [0, 215], [-5, 45], [0, 10, 20, 30, 40], 502, 214,
           15, 4, 10, 3, 196, -26.5, "a)", -94, 6)
pb = panel([b17, b20, b22], [0, 211.3], [-12, 28], [-8, 0, 8, 16, 24], 486, 212,
           14, 7, 9, 4, 190, -20.5, "b)", -96, 3, top_gap=5, leg_gap=9)
pc = panel([c17, c20, c22], [0, 215], [-8, 32], [-8, 0, 8, 16, 24, 32], 494, 212,
           7, 8, 10, 3, 196, -25.1, "c)", -91, 1, tick_fs=22, leg_gap=8)

spacer = alt.Chart(pd.DataFrame({"s": [0]})).mark_point(
    opacity=0, size=1, filled=True, strokeWidth=0).encode(
    x=alt.value(0), y=alt.value(0)).properties(
    width=307, height=1, view=alt.ViewBackground(stroke="transparent"))


def res(c):
    return c.resolve_scale(x="independent", y="independent", color="independent") \
            .resolve_legend(color="independent")


row1 = res(alt.hconcat(pa, pb, spacing=105, bounds="flush"))
row2 = res(alt.hconcat(spacer, pc, spacing=0, bounds="flush"))
chart = res(alt.vconcat(row1, row2, spacing=5.5)) \
    .properties(padding={"left": 5, "top": -2.7, "right": -1, "bottom": 0}) \
    .configure_view(stroke="black", strokeWidth=2)

chart.save("out.html", embed_options={"renderer": "svg", "actions": False})
